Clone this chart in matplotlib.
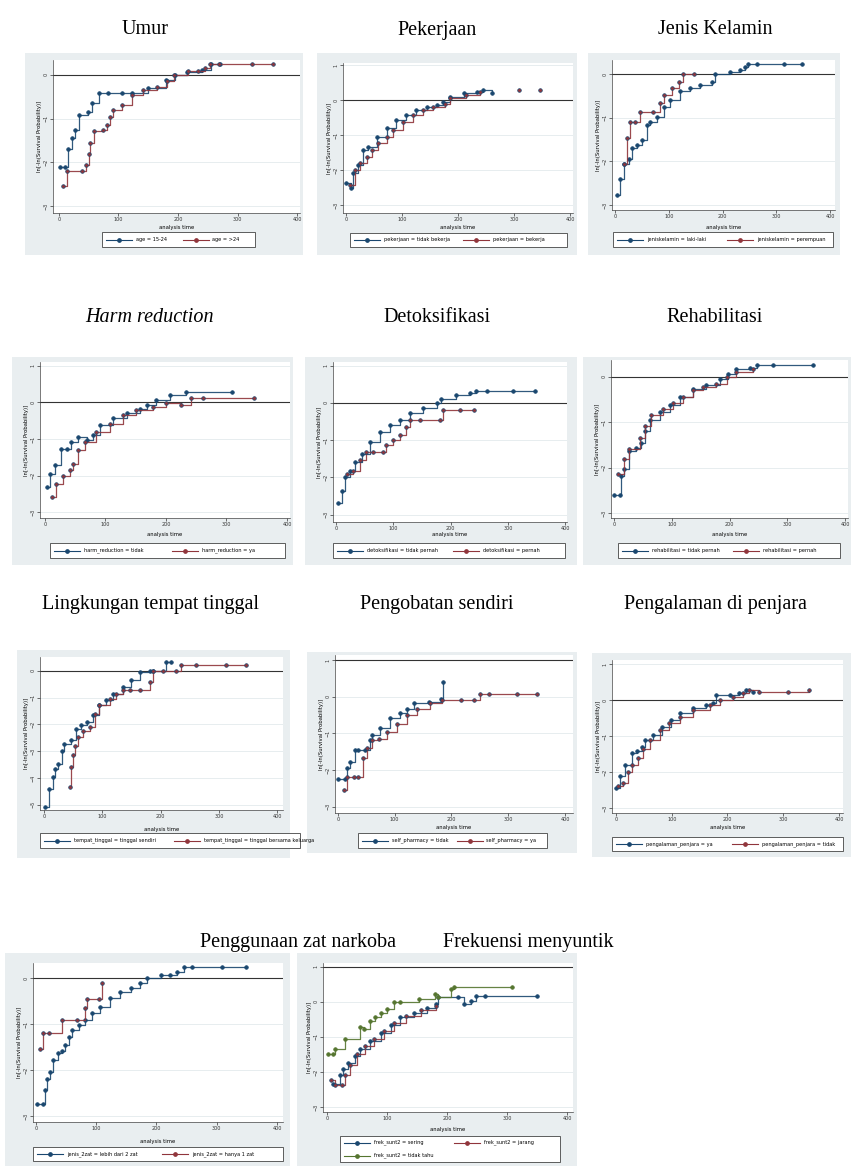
import matplotlib
matplotlib.use("Agg")
import matplotlib.pyplot as plt
from matplotlib.patches import Rectangle
from matplotlib.lines import Line2D

W, H = 851, 1166
NAVY = '#1a476f'
MAROON = '#90353b'
GREEN = '#55752f'
BG = '#e9eef0'

# ---- data ----
umur_labels = ['age = 15-24', 'age = >24']
umur_a_t = [1, 10, 16, 22, 27, 33, 48, 56, 68, 83, 106, 123, 150, 180, 195, 215, 240, 255, 270]
umur_a_y = [-2.1, -2.1, -1.7, -1.45, -1.25, -0.92, -0.85, -0.65, -0.42, -0.42, -0.42, -0.42, -0.3, -0.12, 0.0, 0.07, 0.12, 0.25, 0.25]
umur_b_t = [7, 13, 39, 45, 50, 53, 59, 74, 80, 85, 91, 106, 123, 141, 164, 181, 193, 216, 234, 245, 254, 269, 324, 359]
umur_b_y = [-2.55, -2.2, -2.2, -2.06, -1.8, -1.55, -1.28, -1.25, -1.15, -0.97, -0.8, -0.69, -0.46, -0.34, -0.27, -0.15, 0.0, 0.08, 0.08, 0.15, 0.25, 0.25, 0.25, 0.25]

kerja_labels = ['pekerjaan = tidak bekerja', 'pekerjaan = bekerja']
kerja_a_t = [1, 10, 13, 22, 31, 40, 55, 73, 90, 108, 126, 144, 162, 174, 186, 210, 233, 245, 260]
kerja_a_y = [-2.38, -2.52, -2.1, -1.86, -1.43, -1.33, -1.05, -0.81, -0.57, -0.43, -0.29, -0.19, -0.14, -0.05, 0.1, 0.19, 0.24, 0.29, 0.19]
kerja_b_t = [7, 16, 25, 37, 46, 58, 73, 85, 102, 120, 138, 156, 177, 186, 215, 240]
kerja_b_y = [-2.43, -2.0, -1.81, -1.62, -1.43, -1.24, -1.05, -0.86, -0.62, -0.43, -0.29, -0.19, -0.1, 0.05, 0.15, 0.22]
kerja_dot_t = [308, 346]
kerja_dot_y = [0.29, 0.29]

jk_labels = ['jeniskelamin = laki-laki', 'jeniskelamin = perempuan']
jk_a_t = [3, 9, 16, 25, 31, 40, 50, 59, 65, 78, 90, 102, 121, 140, 158, 180, 186, 214, 233, 242, 248, 264, 314, 348]
jk_a_y = [-2.77, -2.4, -2.05, -1.94, -1.7, -1.62, -1.5, -1.17, -1.09, -0.98, -0.75, -0.6, -0.4, -0.33, -0.25, -0.18, 0.0, 0.05, 0.09, 0.17, 0.23, 0.23, 0.23, 0.23]
jk_b_t = [16, 22, 28, 36, 47, 71, 84, 90, 106, 118, 127, 146]
jk_b_y = [-2.05, -1.47, -1.1, -1.1, -0.86, -0.86, -0.67, -0.48, -0.33, -0.18, 0.0, 0.0]

harm_labels = ['harm_reduction = tidak', 'harm_reduction = ya']
harm_a_t = [3, 8, 16, 27, 36, 44, 55, 69, 80, 91, 113, 135, 157, 168, 184, 206, 234, 310]
harm_a_y = [-2.32, -1.95, -1.72, -1.27, -1.27, -1.08, -0.94, -1.03, -0.9, -0.62, -0.44, -0.3, -0.17, -0.08, 0.06, 0.2, 0.29, 0.29]
harm_b_t = [11, 19, 30, 41, 47, 55, 66, 85, 107, 129, 151, 179, 200, 225, 242, 261, 346]
harm_b_y = [-2.6, -2.23, -2.02, -1.86, -1.68, -1.31, -1.08, -0.81, -0.58, -0.35, -0.21, -0.12, -0.03, -0.07, 0.11, 0.11, 0.11]

detok_labels = ['detoksifikasi = tidak pernah', 'detoksifikasi = pernah']
detok_a_t = [4, 10, 16, 24, 33, 45, 59, 77, 94, 112, 129, 152, 176, 184, 210, 234, 245, 263, 309, 347]
detok_a_y = [-2.7, -2.36, -2.0, -1.82, -1.59, -1.36, -1.05, -0.77, -0.59, -0.45, -0.27, -0.14, 0.0, 0.11, 0.2, 0.27, 0.33, 0.33, 0.33, 0.33]
detok_b_t = [19, 30, 42, 53, 65, 83, 88, 100, 112, 123, 129, 147, 181, 187, 216, 240]
detok_b_y = [-1.91, -1.82, -1.53, -1.32, -1.32, -1.32, -1.14, -1.0, -0.86, -0.64, -0.45, -0.45, -0.45, -0.18, -0.18, -0.18]

rehab_labels = ['rehabilitasi = tidak pernah', 'rehabilitasi = pernah']
rehab_a_t = [1, 10, 13, 18, 27, 39, 47, 53, 62, 79, 97, 114, 137, 160, 183, 198, 212, 235, 248, 275, 345]
rehab_a_y = [-2.6, -2.6, -2.18, -2.04, -1.64, -1.57, -1.46, -1.2, -0.95, -0.77, -0.62, -0.44, -0.26, -0.18, -0.04, 0.07, 0.18, 0.2, 0.25, 0.25, 0.25]
rehab_b_t = [7, 18, 27, 45, 53, 65, 85, 102, 120, 137, 154, 177, 195, 212, 241]
rehab_b_y = [-2.15, -1.82, -1.6, -1.35, -1.09, -0.84, -0.7, -0.58, -0.44, -0.29, -0.22, -0.15, 0.0, 0.11, 0.18]

tinggal_labels = ['tempat_tinggal = tinggal sendiri', 'tempat_tinggal = tinggal bersama keluarga']
tinggal_a_t = [1, 9, 15, 18, 24, 30, 35, 47, 55, 64, 73, 84, 95, 107, 118, 135, 150, 164, 181, 187, 210, 218]
tinggal_a_y = [-5.1, -4.4, -3.98, -3.66, -3.48, -2.98, -2.73, -2.6, -2.16, -2.04, -1.91, -1.66, -1.29, -1.1, -0.85, -0.6, -0.35, -0.04, 0.0, 0.0, 0.34, 0.34]
tinggal_b_t = [44, 47, 50, 53, 58, 67, 78, 87, 95, 113, 124, 135, 147, 164, 181, 187, 204, 227, 235, 261, 313, 347]
tinggal_b_y = [-4.35, -3.6, -3.16, -2.79, -2.48, -2.23, -2.1, -1.6, -1.29, -1.04, -0.85, -0.73, -0.73, -0.73, -0.41, 0.0, 0.0, 0.0, 0.21, 0.21, 0.21, 0.21]

obat_labels = ['self_pharmacy = tidak', 'self_pharmacy = ya']
obat_a_t = [1, 13, 16, 22, 31, 36, 48, 57, 60, 75, 92, 110, 122, 134, 160, 181, 186]
obat_a_y = [-2.25, -2.25, -1.95, -1.77, -1.45, -1.45, -1.45, -1.18, -1.05, -0.86, -0.59, -0.45, -0.32, -0.18, -0.14, -0.05, 0.41]
obat_b_t = [10, 16, 28, 36, 45, 51, 60, 72, 86, 104, 122, 139, 163, 184, 216, 239, 251, 266, 316, 351]
obat_b_y = [-2.53, -2.18, -2.18, -2.18, -1.68, -1.4, -1.18, -1.14, -0.95, -0.73, -0.5, -0.32, -0.18, -0.1, -0.1, -0.1, 0.07, 0.07, 0.07, 0.07]

penjara_labels = ['pengalaman_penjara = ya', 'pengalaman_penjara = tidak']
penjara_a_t = [1, 7, 16, 28, 37, 46, 52, 67, 82, 99, 114, 138, 162, 174, 180, 204, 221, 233, 245]
penjara_a_y = [-2.45, -2.1, -1.8, -1.48, -1.43, -1.3, -1.1, -0.97, -0.74, -0.56, -0.37, -0.23, -0.14, -0.09, 0.14, 0.14, 0.19, 0.28, 0.23]
penjara_b_t = [4, 13, 22, 28, 40, 49, 61, 79, 96, 114, 138, 168, 186, 210, 227, 239, 257, 308, 346]
penjara_b_y = [-2.4, -2.31, -1.99, -1.81, -1.62, -1.35, -1.11, -0.83, -0.65, -0.46, -0.28, -0.14, 0.0, 0.09, 0.19, 0.28, 0.23, 0.23, 0.28]

zat_labels = ['jenis_2zat = lebih dari 2 zat', 'jenis_2zat = hanya 1 zat']
zat_a_t = [1, 12, 15, 18, 23, 29, 37, 43, 48, 54, 59, 71, 82, 93, 107, 123, 140, 157, 173, 184, 207, 223, 234, 246, 259, 309, 348]
zat_a_y = [-2.73, -2.73, -2.42, -2.19, -2.03, -1.78, -1.63, -1.59, -1.45, -1.27, -1.12, -1.01, -0.9, -0.76, -0.62, -0.43, -0.29, -0.22, -0.11, 0.0, 0.07, 0.07, 0.14, 0.25, 0.25, 0.25, 0.25]
zat_b_t = [7, 12, 21, 43, 68, 82, 84, 104, 109]
zat_b_y = [-1.54, -1.18, -1.18, -0.9, -0.9, -0.65, -0.46, -0.46, -0.11]

frek_labels = ['frek_sunt2 = sering', 'frek_sunt2 = jarang', 'frek_sunt2 = tidak tahu']
frek_a_t = [10, 21, 27, 35, 47, 55, 72, 89, 106, 122, 145, 167, 181, 184, 218, 229, 240, 249, 263, 350]
frek_a_y = [-2.33, -2.1, -1.93, -1.74, -1.54, -1.36, -1.12, -0.88, -0.66, -0.45, -0.31, -0.18, -0.07, 0.12, 0.12, -0.07, 0.02, 0.17, 0.17, 0.17]
frek_b_t = [7, 13, 24, 30, 38, 49, 63, 78, 94, 111, 131, 156, 181]
frek_b_y = [-2.24, -2.38, -2.38, -2.1, -1.79, -1.5, -1.26, -1.07, -0.83, -0.6, -0.41, -0.24, -0.12]
frek_c_t = [2, 10, 13, 30, 55, 61, 72, 80, 89, 100, 111, 122, 153, 179, 184, 207, 212, 308]
frek_c_y = [-1.48, -1.48, -1.36, -1.07, -0.71, -0.78, -0.55, -0.45, -0.33, -0.21, -0.02, -0.02, 0.07, 0.22, 0.14, 0.36, 0.41, 0.41]

titles = ['Umur', 'Pekerjaan', 'Jenis Kelamin',
          'Harm reduction', 'Detoksifikasi', 'Rehabilitasi',
          'Lingkungan tempat tinggal', 'Pengobatan sendiri', 'Pengalaman di penjara',
          'Penggunaan zat narkoba', 'Frekuensi menyuntik']
title_pos = [(145, 30), (437, 30), (715, 30),
             (150, 318), (437, 318), (715, 318),
             (150, 605), (437, 605), (715, 605),
             (298, 942), (528, 942)]

ylab = 'ln[-ln(Survival Probability)]'

# panel layout in pixels: background box, plot box, x/y limits, y ticks, hline, legend box
panels = [
    dict(bg=(25, 53, 303, 255), ax=(53, 60, 300, 213), xl=(-10, 405), yl=(-3.16, 0.34),
         yt=[-3, -2, -1, 0], hl=0, lg=(102, 232, 255, 247), xlab_y=227,
         series=[(umur_a_t, umur_a_y, NAVY), (umur_b_t, umur_b_y, MAROON)], labels=umur_labels),
    dict(bg=(317, 53, 577, 255), ax=(343, 63, 573, 213), xl=(-5, 405), yl=(-3.23, 1.06),
         yt=[-3, -2, -1, 0, 1], hl=0, lg=(350, 233, 567, 247), xlab_y=228,
         series=[(kerja_a_t, kerja_a_y, NAVY), (kerja_b_t, kerja_b_y, MAROON)], labels=kerja_labels,
         dots=(kerja_dot_t, kerja_dot_y, MAROON)),
    dict(bg=(588, 53, 840, 255), ax=(612, 60, 835, 210), xl=(-6, 409), yl=(-3.11, 0.32),
         yt=[-3, -2, -1, 0], hl=0, lg=(613, 232, 833, 247), xlab_y=227,
         series=[(jk_a_t, jk_a_y, NAVY), (jk_b_t, jk_b_y, MAROON)], labels=jk_labels),
    dict(bg=(12, 357, 293, 565), ax=(40, 362, 290, 518), xl=(-8, 405), yl=(-3.16, 1.1),
         yt=[-3, -2, -1, 0, 1], hl=0, lg=(50, 543, 285, 558), xlab_y=535,
         series=[(harm_a_t, harm_a_y, NAVY), (harm_b_t, harm_b_y, MAROON)], labels=harm_labels),
    dict(bg=(305, 357, 577, 565), ax=(333, 362, 567, 522), xl=(-5, 403), yl=(-3.2, 1.1),
         yt=[-3, -2, -1, 0, 1], hl=0, lg=(333, 543, 565, 558), xlab_y=535,
         series=[(detok_a_t, detok_a_y, NAVY), (detok_b_t, detok_b_y, MAROON)], labels=detok_labels),
    dict(bg=(583, 357, 851, 565), ax=(611, 360, 848, 518), xl=(-5, 405), yl=(-3.11, 0.37),
         yt=[-3, -2, -1, 0], hl=0, lg=(618, 543, 840, 558), xlab_y=535,
         series=[(rehab_a_t, rehab_a_y, NAVY), (rehab_b_t, rehab_b_y, MAROON)], labels=rehab_labels),
    dict(bg=(17, 650, 290, 858), ax=(40, 657, 283, 810), xl=(-7, 410), yl=(-5.2, 0.52),
         yt=[-5, -4, -3, -2, -1, 0], hl=0, lg=(40, 833, 300, 848), xlab_y=830,
         series=[(tinggal_a_t, tinggal_a_y, NAVY), (tinggal_b_t, tinggal_b_y, MAROON)], labels=tinggal_labels),
    dict(bg=(307, 652, 577, 853), ax=(335, 655, 573, 813), xl=(-5, 414), yl=(-3.17, 1.14),
         yt=[-3, -2, -1, 0, 1], hl=1, lg=(358, 833, 547, 848), xlab_y=827,
         series=[(obat_a_t, obat_a_y, NAVY), (obat_b_t, obat_b_y, MAROON)], labels=obat_labels),
    dict(bg=(592, 653, 851, 857), ax=(612, 660, 843, 813), xl=(-7, 407), yl=(-3.14, 1.11),
         yt=[-3, -2, -1, 0, 1], hl=0, lg=(612, 837, 843, 851), xlab_y=828,
         series=[(penjara_a_t, penjara_a_y, NAVY), (penjara_b_t, penjara_b_y, MAROON)], labels=penjara_labels),
    dict(bg=(5, 953, 290, 1166), ax=(33, 963, 283, 1122), xl=(-5, 410), yl=(-3.12, 0.33),
         yt=[-3, -2, -1, 0], hl=0, lg=(33, 1147, 283, 1161), xlab_y=1142,
         series=[(zat_a_t, zat_a_y, NAVY), (zat_b_t, zat_b_y, MAROON)], labels=zat_labels),
    dict(bg=(297, 953, 577, 1166), ax=(323, 963, 573, 1112), xl=(-7, 410), yl=(-3.14, 1.1),
         yt=[-3, -2, -1, 0, 1], hl=1, lg=(340, 1136, 560, 1162), xlab_y=1130,
         series=[(frek_a_t, frek_a_y, NAVY), (frek_b_t, frek_b_y, MAROON), (frek_c_t, frek_c_y, GREEN)],
         labels=frek_labels),
]


def frac(x0, y0, x1, y1):
    return [x0 / W, 1 - y1 / H, (x1 - x0) / W, (y1 - y0) / H]


fig = plt.figure(figsize=(W / 100, H / 100), dpi=100)
fig.patch.set_facecolor('white')

for p in panels:
    x0, y0, x1, y1 = p['bg']
    fig.patches.append(Rectangle((x0 / W, 1 - y1 / H), (x1 - x0) / W, (y1 - y0) / H,
                                 transform=fig.transFigure, facecolor=BG, edgecolor='none', zorder=-5))

for i, p in enumerate(panels):
    ax = fig.add_axes(frac(*p['ax']))
    ax.set_zorder(1)
    ax.set_facecolor('white')
    for t, y, c in p['series']:
        ax.plot(t, y, drawstyle='steps-post', color=c, lw=0.9, alpha=0.9)
        ax.plot(t, y, ls='none', marker='o', ms=2.6, color=c, mec=NAVY if c == MAROON else c, mew=0.5)
    if 'dots' in p:
        t, y, c = p['dots']
        ax.plot(t, y, ls='none', marker='o', ms=2.6, color=c, mec=NAVY, mew=0.5)
    ax.axhline(p['hl'], color='#333333', lw=0.8, zorder=1)
    ax.set_xlim(*p['xl'])
    ax.set_ylim(*p['yl'])
    ax.set_xticks([0, 100, 200, 300, 400])
    ax.set_yticks(p['yt'])
    ax.tick_params(labelsize=3.5, length=2, width=0.5, pad=1, colors='#333333')
    for lab in ax.get_yticklabels():
        lab.set_rotation(90)
        lab.set_va('center')
    ax.grid(axis='y', color='#e3eaec', lw=0.6)
    ax.set_axisbelow(True)
    for s in ['top', 'right']:
        ax.spines[s].set_visible(False)
    for s in ['left', 'bottom']:
        ax.spines[s].set_linewidth(0.5)
        ax.spines[s].set_color('#444444')
    ax.set_ylabel(ylab, fontsize=3.8, labelpad=1)
    axx0, _, axx1, _ = p['ax']
    fig.text((axx0 + axx1) / 2 / W, 1 - p['xlab_y'] / H, 'analysis time', fontsize=3.8,
             ha='center', va='center')

    # legend box
    lx0, ly0, lx1, ly1 = p['lg']
    fig.patches.append(Rectangle((lx0 / W, 1 - ly1 / H), (lx1 - lx0) / W, (ly1 - ly0) / H,
                                 transform=fig.transFigure, facecolor='white', edgecolor='#444444',
                                 lw=0.6, zorder=2))
    n = len(p['labels'])
    for k, lab in enumerate(p['labels']):
        col = k % 2
        row = k // 2
        nrows = (n + 1) // 2
        cx = lx0 + 4 + col * (lx1 - lx0) / 2
        cy = ly0 + (row + 0.5) * (ly1 - ly0) / nrows
        c = p['series'][k][2]
        fig.add_artist(Line2D([cx / W, (cx + 26) / W], [1 - cy / H, 1 - cy / H], transform=fig.transFigure,
                              color=c, lw=0.8, zorder=3))
        fig.add_artist(Line2D([(cx + 13) / W], [1 - cy / H], transform=fig.transFigure, marker='o',
                              ms=2.4, color=c, zorder=3))
        fig.text((cx + 30) / W, 1 - cy / H, lab, fontsize=3.6, ha='left', va='center', zorder=4)

for i, (tt, (tx, ty)) in enumerate(zip(titles, title_pos)):
    fig.text(tx / W, 1 - ty / H, tt, fontsize=14.5, ha='center', va='center',
             family=['Liberation Serif', 'DejaVu Serif'], style='italic' if i == 3 else 'normal')

fig.savefig('out.png', dpi=100)
